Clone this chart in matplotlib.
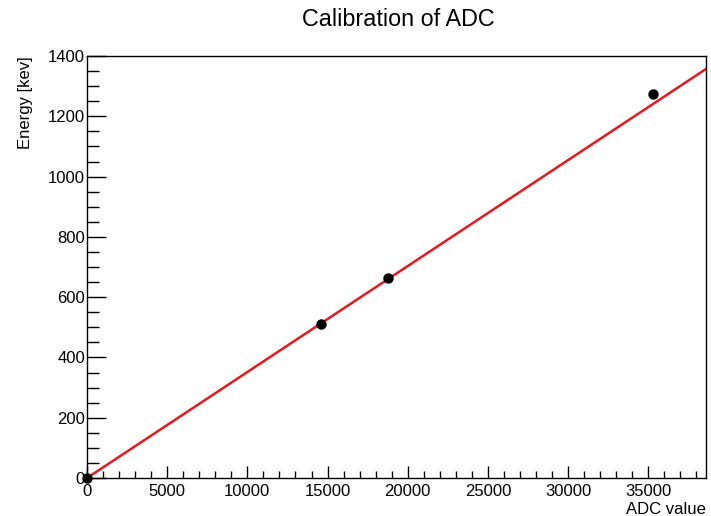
import numpy as np
import matplotlib.pyplot as plt
from matplotlib.ticker import MultipleLocator

plt.rcParams['font.family'] = ['Liberation Sans', 'DejaVu Sans']

# measured calibration points
adc = [0, 14600, 18750, 35300]
energy = [0, 511, 662, 1275]

# linear fit drawn across the range
fit_x = [0, 38600]
fit_y = [0, 1357]

fig = plt.figure(figsize=(7.11, 5.16), dpi=100)
ax = fig.add_axes([87 / 711, 38 / 516, 619 / 711, 422 / 516])

ax.plot(fit_x, fit_y, color='#e8191c', lw=1.8, zorder=2)
ax.plot(adc, energy, 'o', color='black', ms=6.5, zorder=3, clip_on=False)

ax.set_xlim(0, 38600)
ax.set_ylim(0, 1400)
ax.xaxis.set_major_locator(MultipleLocator(5000))
ax.xaxis.set_minor_locator(MultipleLocator(1000))
ax.yaxis.set_major_locator(MultipleLocator(200))
ax.yaxis.set_minor_locator(MultipleLocator(50))

ax.tick_params(which='both', direction='in', top=False, right=False, labelsize=12, width=1)
ax.tick_params(axis='x', which='major', length=8.6, pad=4)
ax.tick_params(axis='x', which='minor', length=5)
ax.tick_params(axis='y', which='major', length=13.5, pad=1.5)
ax.tick_params(axis='y', which='minor', length=8.5)
for s in ax.spines.values():
    s.set_linewidth(1)

ax.set_xlabel('ADC value', fontsize=12, loc='right', labelpad=2.5)
ax.set_ylabel('Energy [kev]', fontsize=12, loc='top', labelpad=11)
fig.text(398 / 711, 1 - 19 / 516, 'Calibration of ADC', ha='center', va='center', fontsize=16.8)

fig.savefig('out.png', dpi=100)
